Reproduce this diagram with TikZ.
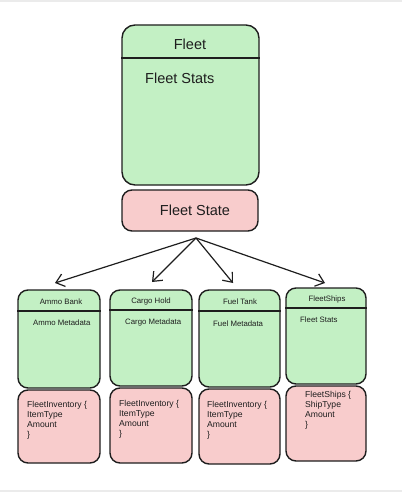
\documentclass[tikz,border=0pt]{standalone}
\usepackage{fontspec}
\setmainfont{Liberation Sans}
\usetikzlibrary{arrows.meta}
\definecolor{boxgreen}{HTML}{C3F0C4}
\definecolor{boxpink}{HTML}{F8CCCC}
\definecolor{inkline}{HTML}{1E1E1E}
\begin{document}
\begin{tikzpicture}[x=1pt,y=1pt,
  box/.style={draw=inkline, line width=1.4pt, rectangle, rounded corners=10pt, inner sep=0pt},
  gbox/.style={box, fill=boxgreen},
  pbox/.style={box, fill=boxpink},
  divider/.style={draw=inkline, line width=1.4pt},
  bigtxt/.style={font=\fontsize{14.5}{16}\selectfont, text=inkline, inner sep=0pt},
  smalltxt/.style={font=\fontsize{7.8}{9}\selectfont, text=inkline, inner sep=0pt},
  codetxt/.style={font=\fontsize{8.6}{10}\selectfont, text=inkline, inner sep=0pt, align=left, anchor=north west},
  conn/.style={draw=inkline, line width=1.2pt, -{Straight Barb[length=8pt,width=13pt,line width=1.2pt]}}
]
\useasboundingbox (0,0) rectangle (402,-494);
\draw[black!8, line width=1.5pt] (0,-1) -- (402,-1);
\draw[black!8, line width=1.5pt] (0,-491) -- (402,-491);

% Fleet
\node[gbox, rounded corners=13pt, minimum width=137pt, minimum height=160pt] (fleet) at (190.5,-105) {};
\draw[divider] (fleet.west |- 0,-58) -- (fleet.east |- 0,-58);
\node[bigtxt] (fleetT) at (190,-44) {Fleet};
\node[bigtxt, anchor=west] (fleetS) at (145,-78) {Fleet Stats};

\node[pbox, minimum width=136pt, minimum height=41pt] (state) at (190,-210.5) {};
\node[bigtxt] (stateT) at (195,-210) {Fleet State};

\coordinate (src) at (196,-238);

% Ammo Bank
\node[gbox, minimum width=82pt, minimum height=98pt] (ammo) at (59,-339) {};
\draw[divider] (ammo.west |- 0,-311) -- (ammo.east |- 0,-311);
\node[smalltxt] (ammoT) at (61,-302) {Ammo Bank};
\node[smalltxt, anchor=west] (ammoM) at (33,-323) {Ammo Metadata};
\node[pbox, minimum width=82pt, minimum height=73pt] (ammoP) at (59,-426.5) {};
\node[codetxt] (ammoC) at (27,-401) {FleetInventory \{\\ItemType\\Amount\\\}};

% Cargo Hold
\node[gbox, minimum width=82pt, minimum height=96pt] (cargo) at (151,-338) {};
\draw[divider] (cargo.west |- 0,-310) -- (cargo.east |- 0,-310);
\node[smalltxt] (cargoT) at (151,-301) {Cargo Hold};
\node[smalltxt, anchor=west] (cargoM) at (125,-322) {Cargo Metadata};
\node[pbox, minimum width=82pt, minimum height=75pt] (cargoP) at (151,-425.5) {};
\node[codetxt] (cargoC) at (119,-400) {FleetInventory \{\\ItemType\\Amount\\\}};

% Fuel Tank
\node[gbox, minimum width=81pt, minimum height=97pt] (fuel) at (239.5,-338.5) {};
\draw[divider] (fuel.west |- 0,-311) -- (fuel.east |- 0,-311);
\node[smalltxt] (fuelT) at (240,-302) {Fuel Tank};
\node[smalltxt, anchor=west] (fuelM) at (213,-324) {Fuel Metadata};
\node[pbox, minimum width=81pt, minimum height=75pt] (fuelP) at (239.5,-426.5) {};
\node[codetxt] (fuelC) at (207,-401) {FleetInventory \{\\ItemType\\Amount\\\}};

% FleetShips
\node[gbox, minimum width=80pt, minimum height=96pt] (ships) at (326,-336) {};
\draw[divider] (ships.west |- 0,-308) -- (ships.east |- 0,-308);
\node[smalltxt] (shipsT) at (327,-299) {FleetShips};
\node[smalltxt, anchor=west] (shipsM) at (300,-320) {Fleet Stats};
\node[pbox, minimum width=80pt, minimum height=75pt] (shipsP) at (326,-423.5) {};
\node[codetxt] (shipsC) at (305,-391) {FleetShips \{\\ShipType\\Amount\\\}};

% connectors
\coordinate (aEnd) at (55,-283);
\coordinate (cEnd) at (152,-282);
\coordinate (fEnd) at (233,-283);
\coordinate (sEnd) at (325,-283);
\draw[conn] (src) -- (aEnd);
\draw[conn] (src) -- (cEnd);
\draw[conn] (src) -- (fEnd);
\draw[conn] (src) -- (sEnd);
\end{tikzpicture}
\end{document}
